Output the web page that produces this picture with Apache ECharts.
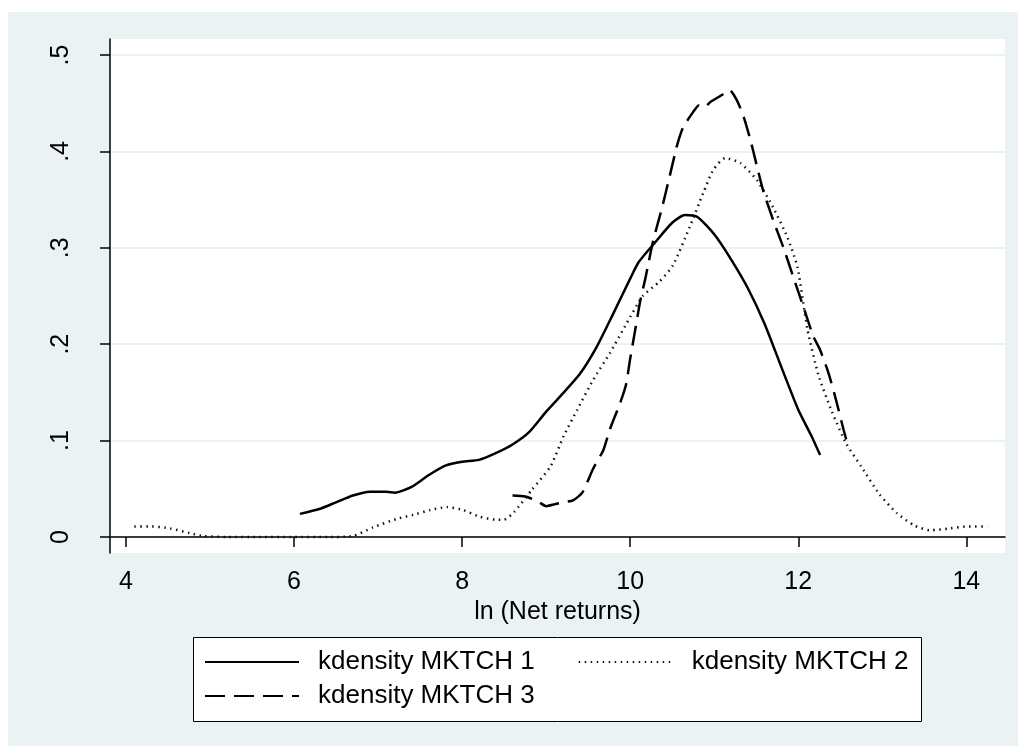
<!DOCTYPE html>
<html>
<head>
<meta charset="utf-8">
<script src="https://cdn.jsdelivr.net/npm/echarts@6/dist/echarts.min.js"></script>
<style>
  html, body { margin: 0; padding: 0; background: #fff; }
  #chart { width: 1018px; height: 746px; }
</style>
</head>
<body>
<div id="chart"></div>
<script>
// kdensity curves, [ln(net returns), density]
var mktch1 = [
  [6.07, 0.024], [6.3, 0.029], [6.5, 0.036], [6.7, 0.043], [6.9, 0.047], [7.1, 0.047],
  [7.2, 0.046], [7.4, 0.052], [7.6, 0.064], [7.8, 0.074], [8.0, 0.078], [8.2, 0.080],
  [8.4, 0.087], [8.6, 0.096], [8.8, 0.109], [9.0, 0.130], [9.2, 0.149], [9.4, 0.169],
  [9.6, 0.197], [9.8, 0.232], [10.0, 0.268], [10.1, 0.285], [10.3, 0.306], [10.5, 0.326],
  [10.65, 0.334], [10.8, 0.332], [11.0, 0.314], [11.2, 0.288], [11.4, 0.258], [11.6, 0.221],
  [11.8, 0.176], [12.0, 0.132], [12.15, 0.106], [12.26, 0.085]
];
var mktch2 = [
  [4.1, 0.011], [4.3, 0.011], [4.52, 0.009], [4.76, 0.004], [4.92, 0.001], [5.2, 0],
  [5.6, 0], [6.0, 0], [6.4, 0], [6.7, 0.001], [6.94, 0.010], [7.23, 0.019], [7.42, 0.023],
  [7.62, 0.028], [7.82, 0.031], [8.01, 0.028], [8.21, 0.021], [8.4, 0.018], [8.5, 0.018],
  [8.62, 0.026], [8.83, 0.049], [9.05, 0.073], [9.21, 0.105], [9.37, 0.132], [9.56, 0.163],
  [9.76, 0.191], [9.96, 0.222], [10.15, 0.250], [10.35, 0.265], [10.51, 0.282], [10.71, 0.322],
  [10.87, 0.357], [10.99, 0.381], [11.13, 0.393], [11.31, 0.388], [11.51, 0.370], [11.70, 0.342],
  [11.87, 0.311], [11.99, 0.280], [12.11, 0.215], [12.24, 0.168], [12.4, 0.130], [12.57, 0.097],
  [12.75, 0.073], [12.96, 0.045], [13.17, 0.025], [13.38, 0.012], [13.57, 0.007], [13.81, 0.009],
  [14.02, 0.011], [14.25, 0.011]
];
var mktch3 = [
  [8.6, 0.043], [8.75, 0.042], [8.9, 0.037], [9.0, 0.032], [9.1, 0.034], [9.2, 0.036],
  [9.32, 0.038], [9.43, 0.046], [9.56, 0.071], [9.68, 0.090], [9.76, 0.112], [9.88, 0.139],
  [9.95, 0.158], [10.0, 0.185], [10.06, 0.215], [10.12, 0.245], [10.18, 0.268], [10.27, 0.306],
  [10.38, 0.342], [10.48, 0.378], [10.56, 0.407], [10.63, 0.425], [10.75, 0.441], [10.82, 0.448],
  [10.89, 0.446], [10.95, 0.451], [11.1, 0.459], [11.18, 0.464], [11.27, 0.453], [11.35, 0.436],
  [11.43, 0.412], [11.51, 0.384], [11.58, 0.360], [11.70, 0.329], [11.82, 0.301], [11.94, 0.270],
  [12.06, 0.239], [12.18, 0.208], [12.26, 0.194], [12.36, 0.170], [12.45, 0.142], [12.54, 0.111],
  [12.6, 0.092]
];
var xTicks = [4, 6, 8, 10, 12, 14];
var yTicks = [0, 0.1, 0.2, 0.3, 0.4, 0.5];
var yTickLabels = ["0", ".1", ".2", ".3", ".4", ".5"];
var names = ["kdensity MKTCH 1", "kdensity MKTCH 2", "kdensity MKTCH 3"];

var font = "Liberation Sans, Arial, sans-serif";
var bg = "#EAF2F3";

var legendText = { fontSize: 26, color: "#000", fontFamily: font, padding: [0, 0, 0, 14], lineHeight: 28 };

var chart = echarts.init(document.getElementById("chart"), null, { renderer: "canvas" });
var option = {
  animation: false,
  textStyle: { fontFamily: font },
  graphic: [
    {
      type: "rect", z: -10, silent: true,
      shape: { x: 8, y: 12, width: 1010, height: 734 },
      style: { fill: bg }
    },
    {
      type: "rect", z: -5, silent: true,
      shape: { x: 193.5, y: 637.5, width: 728, height: 84 },
      style: { fill: "#fff", stroke: "#000", lineWidth: 1 }
    }
  ],
  grid: {
    left: 110, top: 39, right: 13, bottom: 193,
    show: true, backgroundColor: "#fff", borderWidth: 0
  },
  legend: [
    {
      data: [names[0], names[1]],
      left: 204, top: 648, padding: 0,
      itemWidth: 94, itemHeight: 20, itemGap: 43,
      itemStyle: { opacity: 0 },
      textStyle: legendText
    },
    {
      data: [names[2]],
      left: 204, top: 682, padding: 0,
      itemWidth: 94, itemHeight: 20,
      itemStyle: { opacity: 0 },
      textStyle: legendText
    }
  ],
  xAxis: {
    type: "value",
    min: 3.81, max: 14.46,
    name: "ln (Net returns)",
    nameLocation: "middle",
    nameGap: 43,
    nameTextStyle: { fontSize: 25, color: "#000", fontFamily: font },
    axisLine: { lineStyle: { color: "#000", width: 1.5 } },
    axisTick: { length: 10, lineStyle: { color: "#000", width: 1.5 }, customValues: xTicks },
    axisLabel: { fontSize: 25, color: "#000", margin: 17, customValues: xTicks },
    splitLine: { show: false }
  },
  yAxis: {
    type: "value",
    min: -0.0166, max: 0.5166,
    axisLine: { show: true, lineStyle: { color: "#000", width: 1.5 } },
    axisTick: { show: true, length: 10, lineStyle: { color: "#000", width: 1.5 }, customValues: yTicks },
    axisLabel: {
      fontSize: 25, color: "#000", rotate: 90, margin: 36,
      customValues: yTicks,
      formatter: function (v) {
        return yTickLabels[Math.round(v * 10)];
      }
    },
    splitLine: { show: true, lineStyle: { color: bg, width: 2 } }
  },
  series: [
    {
      name: names[0], type: "line", data: mktch1, smooth: 0.2,
      showSymbol: false, symbol: "none", color: "#000",
      lineStyle: { color: "#000", width: 2.5, type: "solid" }
    },
    {
      name: names[1], type: "line", data: mktch2, smooth: 0.2,
      showSymbol: false, symbol: "none", color: "#000",
      lineStyle: { color: "#111", width: 2.5, type: [1.5, 4.5] }
    },
    {
      name: names[2], type: "line", data: mktch3, smooth: 0.2,
      showSymbol: false, symbol: "none", color: "#000",
      lineStyle: { color: "#000", width: 2.5, type: [20, 9] }
    }
  ]
};
chart.setOption(option);
</script>
</body>
</html>
